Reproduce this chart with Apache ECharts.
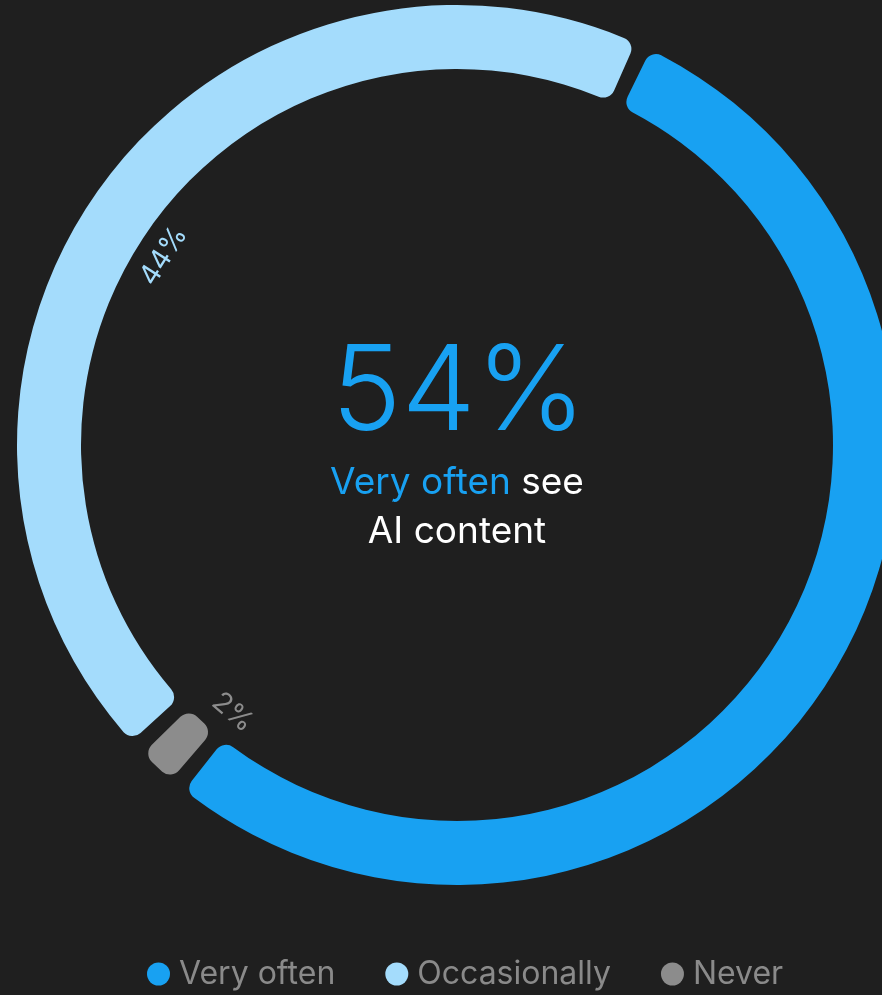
<!DOCTYPE html>
<html><head><meta charset="utf-8">
<script src="https://cdn.jsdelivr.net/npm/echarts@6/dist/echarts.min.js"></script>
<style>html,body{margin:0;padding:0;background:#1f1f1f;}#c{width:882px;height:995px;}</style>
</head><body><div id="c"></div>
<script>
const categories = ['Very often', 'Never', 'Occasionally'];
const values = [54, 2, 44];
const colors = ['#18a1f2', '#8c8c8c', '#a4dcfc'];
const legendOrder = ['Very often', 'Occasionally', 'Never'];
const showLabel = [false, true, true];
const FONT = 'Inter, "Noto Sans", sans-serif';

const chart = echarts.init(document.getElementById('c'));
const mainData = categories.map((n, i) => ({ name: n, value: values[i], itemStyle: { color: colors[i] } }));
const labelData = categories.map((n, i) => ({
  name: n, value: values[i],
  label: { show: showLabel[i], color: colors[i] }
}));
chart.setOption({
  backgroundColor: '#1f1f1f',
  animation: false,
  legend: {
    data: legendOrder,
    bottom: 0,
    left: 142,
    icon: 'circle',
    itemWidth: 23, itemHeight: 23, itemGap: 50,
    textStyle: { color: '#8a8a8a', fontSize: 32, fontFamily: FONT, padding: [0, 0, 0, 4] }
  },
  graphic: [{
    type: 'text', x: 459, y: 336,
    style: { text: '54%', fill: '#18a1f2', font: '300 118px ' + FONT, align: 'center', verticalAlign: 'top' }
  }, {
    type: 'text', x: 457, y: 458,
    style: {
      text: '{b|Very often }{w|see}\n{w|AI content}',
      align: 'center', verticalAlign: 'top',
      rich: {
        b: { fill: '#18a1f2', fontSize: 37, fontFamily: FONT, lineHeight: 49 },
        w: { fill: '#ffffff', fontSize: 37, fontFamily: FONT, lineHeight: 49 }
      }
    }
  }],
  series: [{
    type: 'pie',
    center: [457, 445],
    radius: [376, 440],
    startAngle: 65,
    clockwise: true,
    padAngle: 2.2,
    itemStyle: { borderRadius: 12 },
    label: { show: false },
    labelLine: { show: false },
    emphasis: { disabled: true },
    data: mainData
  }, {
    type: 'pie',
    center: [457, 445],
    radius: [330, 362],
    startAngle: 68,
    clockwise: true,
    padAngle: 2.2,
    silent: true,
    itemStyle: { color: 'rgba(0,0,0,0)' },
    label: { show: true, position: 'inside', rotate: 'tangential', formatter: '{c}%', fontSize: 28, fontFamily: FONT },
    labelLine: { show: false },
    emphasis: { disabled: true },
    legendHoverLink: false,
    data: labelData
  }]
});
</script></body></html>
